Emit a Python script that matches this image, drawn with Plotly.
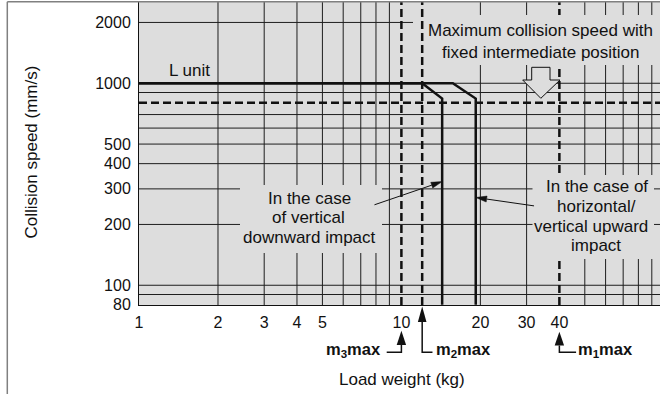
import math
import plotly.graph_objects as go

# ---------------- data ----------------
load_tick_vals = [1, 2, 3, 4, 5, 10, 20, 30, 40]
speed_tick_vals = [80, 100, 200, 300, 400, 500, 1000, 2000]
grid_load = [2, 3, 4, 5, 6, 7, 8, 9, 20, 30, 50, 60, 70, 80, 90]
grid_speed = [90, 100, 200, 300, 400, 500, 600, 700, 900, 1000, 2000]

down_load = [1, 12, 14.3, 14.3]
down_speed = [1000, 1000, 840, 80]
up_load = [1, 15.7, 19.2, 19.2]
up_speed = [1000, 1000, 840, 80]

fixed_max_speed = 800
m_names = ["m<sub>1</sub>max", "m<sub>2</sub>max", "m<sub>3</sub>max"]
m_loads = [40, 12, 10]

# ---------------- geometry / style ----------------
W, H = 660, 394
ML, MR, MT, MB = 139, 0, 2, 89
PW = W - ML - MR
PH = H - MT - MB
X_RANGE = [0, 1.9855]
Y_LO = math.log10(80) - 0.0008
Y_RANGE = [Y_LO, Y_LO + PH / 202.0]
BG = "#dddddd"
INK = "#111111"
GRID = "#1e1e1e"
FONT = "Liberation Sans, Arial, sans-serif"
DASH = "8px,4px"


def px(xp):
    return (xp - ML) / PW


def py(yp):
    return (MT + PH - yp) / PH


fig = go.Figure()
fig.add_trace(go.Scatter(x=down_load, y=down_speed, mode="lines",
                         line=dict(color=INK, width=2.5), hoverinfo="skip",
                         showlegend=False))
fig.add_trace(go.Scatter(x=up_load, y=up_speed, mode="lines",
                         line=dict(color=INK, width=2.5), hoverinfo="skip",
                         showlegend=False))

shapes = []
for v in grid_load:
    shapes.append(dict(type="line", xref="x", yref="paper", x0=v, x1=v, y0=0, y1=1,
                       line=dict(color=GRID, width=1), layer="below"))
for v in grid_speed:
    shapes.append(dict(type="line", xref="paper", yref="y", x0=0, x1=1, y0=v, y1=v,
                       line=dict(color=GRID, width=1), layer="below"))

# dashed reference lines (masked by text boxes)
shapes.append(dict(type="line", xref="paper", yref="y", x0=0, x1=1,
                   y0=fixed_max_speed, y1=fixed_max_speed,
                   line=dict(color=INK, width=2.5, dash=DASH), layer="below"))
for v in (m_loads[0], m_loads[2]):
    shapes.append(dict(type="line", xref="x", yref="paper", x0=v, x1=v, y0=0, y1=1,
                       line=dict(color=INK, width=2.5, dash=DASH), layer="below"))

# text-box masks
for (x0, x1, y0, y1) in [(413, 661, 15, 65), (240, 382, 185, 253), (532.5, 654, 175, 259)]:
    shapes.append(dict(type="rect", xref="paper", yref="paper",
                       x0=px(x0), x1=px(x1), y0=py(y1), y1=py(y0),
                       fillcolor=BG, line=dict(width=0), layer="below"))

shapes.append(dict(type="line", xref="x", yref="paper", x0=m_loads[1], x1=m_loads[1],
                   y0=0, y1=1, line=dict(color=INK, width=2.5, dash=DASH), layer="below"))

# hollow block arrow pointing at the fixed-position speed line
blk = [(531.7, 67.3), (550, 67.3), (550, 80), (560, 80), (540.8, 98.3),
       (522.7, 80), (531.7, 80)]
path = "M" + " L".join(f"{px(a):.5f},{py(b):.5f}" for a, b in blk) + " Z"
shapes.append(dict(type="path", xref="paper", yref="paper", path=path,
                   fillcolor=BG, line=dict(color=INK, width=1), layer="below"))


# thin pointer arrows (pixel offsets anchored on the curves)
def pointer(xd, yd, dx, dy, hl=11, hw=3):
    tx, ty = dx, -dy
    d = math.hypot(tx, ty)
    ux, uy = tx / d, ty / d
    nx, ny = -uy, ux
    bx, by = hl * ux, hl * uy
    line = dict(type="path", xref="x", yref="y", xsizemode="pixel", ysizemode="pixel",
                xanchor=xd, yanchor=yd, path=f"M{bx:.2f},{by:.2f} L{tx:.2f},{ty:.2f}",
                line=dict(color=INK, width=1), layer="above")
    head = dict(type="path", xref="x", yref="y", xsizemode="pixel", ysizemode="pixel",
                xanchor=xd, yanchor=yd,
                path=(f"M0,0 L{bx + hw * nx:.2f},{by + hw * ny:.2f} "
                      f"L{bx - hw * nx:.2f},{by - hw * ny:.2f} Z"),
                fillcolor=INK, line=dict(color=INK, width=0.5), layer="above")
    return [line, head]


shapes += pointer(down_load[2], 326, -67.7, 23.2)
shapes += pointer(up_load[2], 272, 58.3, 8.4)

# arrows below the axis marking m1max, m2max, m3max
AX_Y = MT + PH
m_arrow = {  # tip y, base y, half width, elbow end dx
    0: (331.7, 345.5, 4.7, 16.7),
    1: (306.5, 322.0, 4.3, 10.3),
    2: (330.7, 345.0, 4.7, -14.7),
}
ELBOW_Y = 352.3
for i, load in enumerate(m_loads):
    tip, base, hw, dx = m_arrow[i]
    shapes.append(dict(type="path", xref="x", yref="paper", xsizemode="pixel",
                       ysizemode="pixel", xanchor=load, yanchor=0,
                       path=f"M0,{AX_Y - tip:.2f} L{-hw},{AX_Y - base:.2f} L{hw},{AX_Y - base:.2f} Z",
                       fillcolor=INK, line=dict(width=0), layer="above"))
    shapes.append(dict(type="path", xref="x", yref="paper", xsizemode="pixel",
                       ysizemode="pixel", xanchor=load, yanchor=0,
                       path=f"M0,{AX_Y - base:.2f} L0,{AX_Y - ELBOW_Y:.2f} L{dx},{AX_Y - ELBOW_Y:.2f}",
                       fillcolor="rgba(0,0,0,0)", line=dict(color=INK, width=1.5),
                       layer="above"))

# figure frame (left and top edges)
shapes.append(dict(type="line", xref="paper", yref="paper", x0=px(7.3), x1=px(7.3),
                   y0=py(H + 5), y1=py(1.7), line=dict(color="#808080", width=1.5)))
shapes.append(dict(type="line", xref="paper", yref="paper", x0=px(7.3), x1=px(W + 5),
                   y0=py(1.7), y1=py(1.7), line=dict(color="#808080", width=1.5)))

# ---------------- text ----------------
ann = []


def label(text, cx, cy, size=17, **kw):
    d = dict(text=text, xref="paper", yref="paper", x=px(cx), y=py(cy),
             xanchor="center", yanchor="middle", showarrow=False,
             font=dict(family=FONT, size=size, color=INK))
    d.update(kw)
    ann.append(d)


label("Maximum collision speed with", 540, 30)
label("fixed intermediate position", 540.5, 52.2)
label("L unit", 189.7, 70.8)
label("In the case", 309.2, 198.3)
label("of vertical", 308.8, 217.8)
label("downward impact", 309.2, 237.2)
label("In the case of", 596.7, 186.5)
label("horizontal/", 596, 206.7)
label("vertical upward", 590.8, 226.3)
label("impact", 596.3, 245.9)
label("Load weight (kg)", 402, 379.5)
label("Collision speed (mm/s)", 31, 152.5, textangle=-90)
label("<b>" + m_names[2] + "</b>", 353.8, 349.6, size=16.5)
label("<b>" + m_names[1] + "</b>", 463.3, 349.6, size=16.5)
label("<b>" + m_names[0] + "</b>", 605.8, 349.6, size=16.5)

fig.update_layout(
    width=W, height=H, autosize=False,
    margin=dict(l=ML, r=MR, t=MT, b=MB, pad=0),
    paper_bgcolor="white", plot_bgcolor=BG,
    font=dict(family=FONT, size=16, color=INK),
    showlegend=False,
    shapes=shapes, annotations=ann,
    xaxis=dict(type="log", range=X_RANGE, tickvals=load_tick_vals,
               ticktext=[str(v) for v in load_tick_vals], showgrid=False,
               zeroline=False, showline=True, linecolor=INK, linewidth=1,
               ticks="", ticklabelstandoff=3, tickfont=dict(size=16)),
    yaxis=dict(type="log", range=Y_RANGE, tickvals=speed_tick_vals,
               ticktext=[str(v) for v in speed_tick_vals], showgrid=False,
               zeroline=False, showline=True, linecolor=INK, linewidth=1,
               ticks="", ticklabelstandoff=4, tickfont=dict(size=16)),
)

fig.write_html(
    "out.html",
    config={"displayModeBar": False},
    post_script="document.body.style.margin='0';document.body.style.overflow='hidden';",
)
